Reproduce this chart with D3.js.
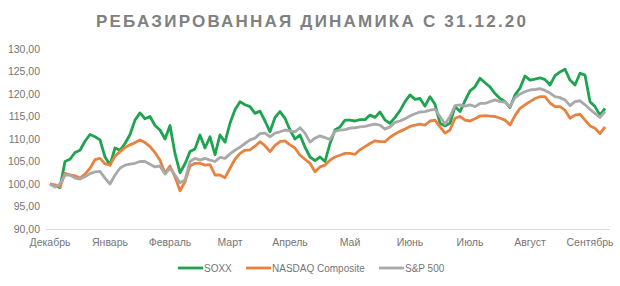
<!DOCTYPE html>
<html><head><meta charset="utf-8">
<script src="https://cdn.jsdelivr.net/npm/d3@7"></script>
<style>body{margin:0;background:#fff;}svg{display:block;}</style>
</head><body><svg id="c" width="620" height="286"></svg>
<script>
const title = "РЕБАЗИРОВАННАЯ ДИНАМИКА С 31.12.20";
const monthLabels = ["Декабрь","Январь","Февраль","Март","Апрель","Май","Июнь","Июль","Август","Сентябрь"];
const labelStep = 12;
const yTicks = [90,95,100,105,110,115,120,125,130];
const seriesNames = ["SOXX","NASDAQ Composite","S&P 500"];
const seriesColors = ["#1ea34f","#e8823f","#a9a9a9"];
const soxx = [100,99.6,99.2,105,105.5,107,107.5,109.5,111,110.5,109.8,106,104.2,108,107.5,109,111,114.2,115.8,114.5,115,113,112,110,113,106.8,102.5,104.5,107.2,107.8,110.9,108,110.5,106.5,110.9,109.3,113.5,116.5,118.3,117.6,117.2,115.7,116.2,114,111.6,114.8,116.1,114.6,112,110,110.9,108.2,106,105.2,106,105,109,112,112.7,114.2,114.2,114,114.3,114.3,115.3,114.8,116,114.2,113.5,114.8,116.3,118.3,119.8,118.8,119,117.3,119.4,117.7,113.5,112.9,113.5,117.2,116.1,118.5,120.7,121.6,123.5,122.5,121.6,120.1,119,118.3,117,119.8,121.3,124,123.1,123.3,123.6,123.2,122,124.1,124.9,125.5,123.1,122,124.6,124.2,118.3,117.2,115.3,116.8];
const nasdaq = [100,99.8,99.4,102.4,102,101.8,101.3,102.2,103.5,105.4,105.7,104.5,104.2,106.2,107.2,108.1,108.7,109.2,109.8,109.2,108.3,107,105.3,102.4,104,101.6,98.5,100.5,104,104.6,104.6,104.2,104.3,102,102,101.4,103.5,105.5,106.8,107.5,107.6,108.4,109.4,108.5,107.2,108.6,109.4,109.6,108.7,108,106.4,105.5,104.6,102.7,103.8,104.2,105.3,106,106.4,106.8,106.8,106.6,107.6,108.3,109,109.6,109.4,109.4,110.4,111.1,111.7,112.2,112.8,113.1,113.3,113.1,114,114.2,112.7,111.3,112,114.6,115,114.2,114,114.5,115.1,115.2,115.1,115,114.6,114.2,113.1,115.2,116.8,117.6,118.3,119,119.4,119.4,118,117.2,117.2,116.4,114.6,115.3,115.5,114.2,112.9,112.4,111.2,112.7];
const sp500 = [100,99.3,100,102,102,101.3,101.1,101.6,102.3,102.7,102.8,101.3,100,102,103.5,104.2,104.4,104.6,105,105,104.4,103.8,104,102.2,103.5,102,100.3,100.9,105,105.7,105.3,105.7,105.3,105,105.9,105.7,106.7,107.5,108.2,109,109.8,110.2,111.2,111.3,110.5,111.3,111.6,112,111.8,111.6,112.5,111.3,109.3,110.2,110.7,110.3,109.9,111.7,112,112.1,112.4,112.5,112.7,112.8,113.1,113.3,113.1,112.2,112.7,113.7,114,114.5,115.1,115.6,116,116.1,116.4,116.6,115,113.3,115,117.4,117.6,117.3,117.6,117.2,117.9,117.9,118.3,118.7,118.3,118.2,117.2,119.2,120,120.5,120.9,121,121.2,120.8,120.2,119.4,119.2,118.7,117.4,118.3,118.5,117.6,116.6,115.7,114.8,116.1];

const series = [soxx, nasdaq, sp500];
const N = soxx.length;
const svg = d3.select("#c");
const font = "'Liberation Sans', Arial, sans-serif";
const x = d3.scaleLinear().domain([0, N-1]).range([50, 605]);
const y = d3.scaleLinear().domain([90,130]).range([229, 49]);
const fmt = v => d3.format(".2f")(v).replace(".", ",");

svg.append("text").attr("x", 311).attr("y", 27).attr("text-anchor","middle")
  .attr("font-family", font).attr("font-weight","bold").attr("font-size", 17)
  .attr("fill","#808080").attr("textLength", 430).attr("lengthAdjust","spacing").text(title);

svg.append("g").selectAll("text").data(yTicks).join("text")
  .attr("x", 40).attr("y", d => y(d)).attr("dy","0.35em").attr("text-anchor","end")
  .attr("font-family", font).attr("font-size", 10.5).attr("fill","#757575").text(fmt);

svg.append("line").attr("x1", 46).attr("x2", 610).attr("y1", y(90)+0.5).attr("y2", y(90)+0.5)
  .attr("stroke","#d9d9d9").attr("stroke-width",1);

svg.append("g").selectAll("text").data(monthLabels).join("text")
  .attr("x", (d,i) => x(i*labelStep)).attr("y", 246).attr("text-anchor","middle")
  .attr("font-family", font).attr("font-size", 10.5).attr("fill","#757575").text(d => d);

const line = d3.line().x((d,i) => x(i)).y(d => y(d)).curve(d3.curveLinear);
series.forEach((s,k) => {
  svg.append("path").datum(s).attr("d", line).attr("fill","none")
    .attr("stroke", seriesColors[k]).attr("stroke-width", 2.8).attr("stroke-linejoin","round");
});

const legX = [178, 246, 379];
const lg = svg.append("g");
seriesNames.forEach((n,k) => {
  lg.append("line").attr("x1", legX[k]).attr("x2", legX[k]+25).attr("y1", 268).attr("y2", 268)
    .attr("stroke", seriesColors[k]).attr("stroke-width", 2.8);
  lg.append("text").attr("x", legX[k]+26).attr("y", 268).attr("dy","0.35em")
    .attr("font-family", font).attr("font-size", 10).attr("fill","#757575").text(n);
});
</script></body></html>
